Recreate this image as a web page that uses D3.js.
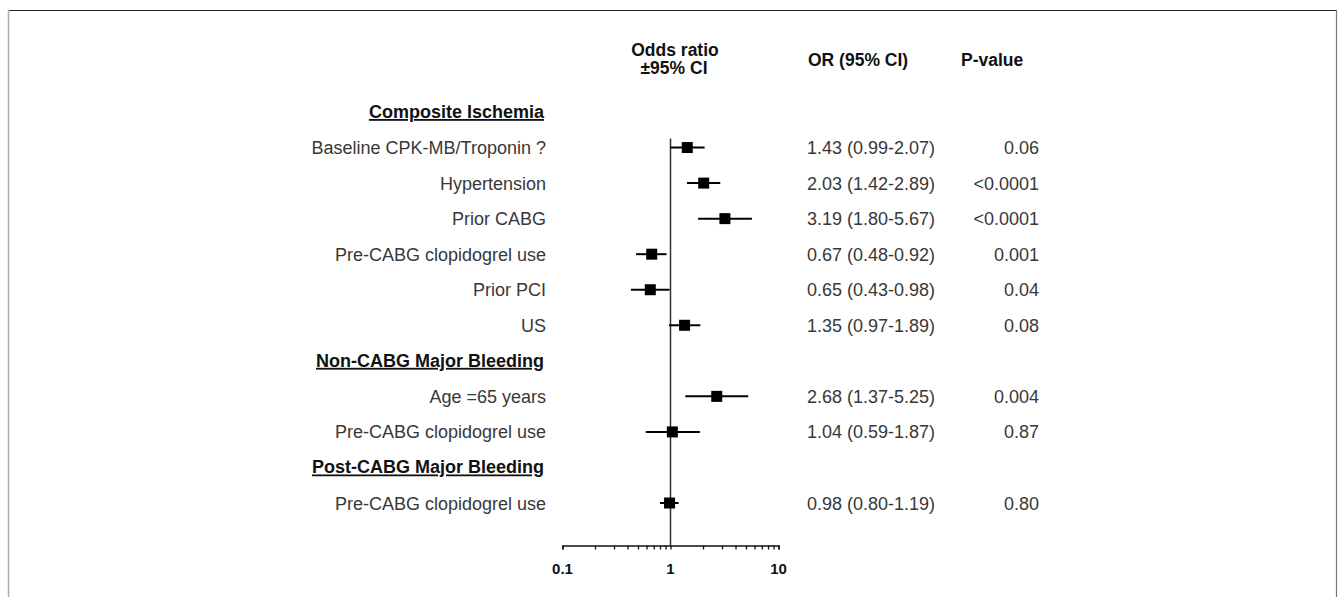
<!DOCTYPE html>
<meta charset="utf-8" />
<script src="https://d3js.org/d3.v7.min.js"></script>
<body style="margin:0;background:#fff">
  <div id="forest"></div>
  <script>
    // chart data
    const sections = ["Composite Ischemia", "Non-CABG Major Bleeding", "Post-CABG Major Bleeding"];
    const factors = [
      "Baseline CPK-MB/Troponin ?",
      "Hypertension",
      "Prior CABG",
      "Pre-CABG clopidogrel use",
      "Prior PCI",
      "US",
      "Age =65 years",
      "Pre-CABG clopidogrel use",
      "Pre-CABG clopidogrel use"
    ];
    const factorSection = [0, 0, 0, 0, 0, 0, 1, 1, 2];
    const oddsRatios = [1.43, 2.03, 3.19, 0.67, 0.65, 1.35, 2.68, 1.04, 0.98];
    const ciLower = [0.99, 1.42, 1.80, 0.48, 0.43, 0.97, 1.37, 0.59, 0.80];
    const ciUpper = [2.07, 2.89, 5.67, 0.92, 0.98, 1.89, 5.25, 1.87, 1.19];
    const pValues = ["0.06", "<0.0001", "<0.0001", "0.001", "0.04", "0.08", "0.004", "0.87", "0.80"];
    const axisTicks = [0.1, 1, 10];

    // one row per section header and per factor
    var rows = [];
    sections.forEach(function (s, si) {
      rows.push({ type: "section", label: s });
      factors.forEach(function (f, i) {
        if (factorSection[i] === si) {
          rows.push({
            type: "factor",
            label: f,
            or: oddsRatios[i],
            lo: ciLower[i],
            hi: ciUpper[i],
            p: pValues[i]
          });
        }
      });
    });

    var W = 1341, H = 597;
    var svg = d3.select("#forest").append("svg")
      .attr("width", W).attr("height", H)
      .style("font-family", "Arial, 'Liberation Sans', sans-serif");

    // frame
    svg.append("line").attr("x1", 8).attr("x2", 1337).attr("y1", 10.5).attr("y2", 10.5)
      .attr("stroke", "#222").attr("stroke-width", 1.2);
    svg.append("line").attr("x1", 8.5).attr("x2", 8.5).attr("y1", 10).attr("y2", H)
      .attr("stroke", "#aaa").attr("stroke-width", 1.5);
    svg.append("line").attr("x1", 1336.5).attr("x2", 1336.5).attr("y1", 10).attr("y2", H)
      .attr("stroke", "#777").attr("stroke-width", 1.2);

    var x = d3.scaleLog().domain([0.1, 10]).range([562.5, 778.5]);
    var y = d3.scalePoint().domain(d3.range(rows.length)).range([112, 503]);
    var axisY = 545.5;

    // column headers
    var hdr = svg.append("g").attr("font-weight", "bold").attr("font-size", 17.5).attr("fill", "#111");
    hdr.append("text").attr("x", 675).attr("y", 56).attr("text-anchor", "middle").text("Odds ratio");
    hdr.append("text").attr("x", 674).attr("y", 74).attr("text-anchor", "middle").text("±95% CI");
    hdr.append("text").attr("x", 808).attr("y", 66).text("OR (95% CI)");
    hdr.append("text").attr("x", 961).attr("y", 66).text("P-value");

    // reference line at OR = 1
    svg.append("line")
      .attr("x1", x(1)).attr("x2", x(1))
      .attr("y1", y(1) - 9).attr("y2", axisY)
      .attr("stroke", "#333").attr("stroke-width", 1.5);

    // x axis
    var axis = d3.axisBottom(x)
      .tickValues(d3.range(1, 10).map(function (d) { return d * 0.1; })
        .concat(d3.range(1, 11)))
      .tickSize(4)
      .tickFormat("");
    var gAxis = svg.append("g").attr("transform", "translate(0," + axisY + ")").call(axis);
    gAxis.select(".domain").attr("stroke", "#111").attr("stroke-width", 1.5);
    gAxis.selectAll(".tick line").attr("stroke", "#111").attr("stroke-width", 1.3);
    svg.append("g").selectAll("text").data(axisTicks).enter().append("text")
      .attr("x", function (d) { return x(d); })
      .attr("y", 574)
      .attr("text-anchor", "middle")
      .attr("font-weight", "bold")
      .attr("font-size", 15)
      .attr("fill", "#111")
      .text(function (d) { return d; });

    // rows
    rows.forEach(function (r, i) {
      var yy = y(i);
      if (r.type === "section") {
        svg.append("text")
          .attr("x", 544).attr("y", yy + 6)
          .attr("text-anchor", "end")
          .attr("font-weight", "bold").attr("font-size", 18)
          .attr("fill", "#111")
          .style("text-decoration", "underline")
          .text(r.label);
        return;
      }
      svg.append("text")
        .attr("x", 546).attr("y", yy + 6.5)
        .attr("text-anchor", "end").attr("font-size", 18).attr("fill", "#383838")
        .text(r.label);
      svg.append("line")
        .attr("x1", x(r.lo)).attr("x2", x(r.hi))
        .attr("y1", yy).attr("y2", yy)
        .attr("stroke", "#000").attr("stroke-width", 2);
      svg.append("rect")
        .attr("x", x(r.or) - 5.5).attr("y", yy - 5.5)
        .attr("width", 11).attr("height", 11)
        .attr("fill", "#000");
      svg.append("text")
        .attr("x", 807).attr("y", yy + 6.5)
        .attr("font-size", 18).attr("fill", "#383838")
        .text(r.or.toFixed(2) + " (" + r.lo.toFixed(2) + "-" + r.hi.toFixed(2) + ")");
      svg.append("text")
        .attr("x", 1039).attr("y", yy + 6.5)
        .attr("text-anchor", "end").attr("font-size", 18).attr("fill", "#383838")
        .text(r.p);
    });
  </script>
</body>
